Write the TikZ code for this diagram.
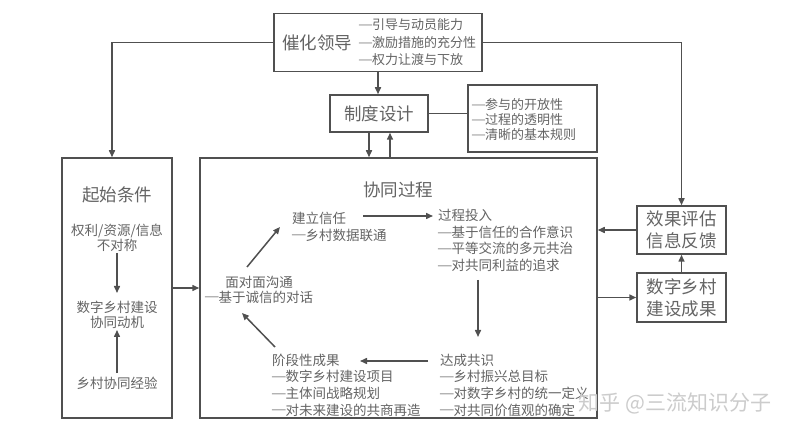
\documentclass[tikz,border=0pt]{standalone}
\usepackage{fontspec}
\setmainfont{Noto Sans CJK SC}
\newfontfamily\dashfont{Liberation Serif}
\newcommand\dd{\raisebox{0.1em}{\dashfont —}}
\usetikzlibrary{arrows.meta}
\definecolor{linec}{RGB}{80,80,80}
\definecolor{textc}{RGB}{100,100,100}
\begin{document}
\begin{tikzpicture}[x=1pt,y=-1pt,
  box/.style={draw=linec, line width=1.5pt, inner sep=0pt},
  small/.style={font=\fontsize{13.5}{16.5}\selectfont, text=textc, inner sep=0pt, align=left},
  big/.style={font=\fontsize{17.5}{21}\selectfont, text=textc, inner sep=0pt},
  conn/.style={draw=linec, line width=1.5pt},
  arr/.style={conn, -{Triangle[length=7pt,width=6pt]}}]
\useasboundingbox[fill=white] (0,0) rectangle (800,435);

% top box
\node[box, minimum width=208pt, minimum height=58pt] (cat) at (378,42.5) {};
\node[big] (catt) at (317,43) {催化领导};
\node[small, anchor=west, font=\fontsize{13}{17.5}\selectfont] (catl) at (359,42.5) {\dd 引导与动员能力\\\dd 激励措施的充分性\\\dd 权力让渡与下放};

% institution design
\node[box, big, minimum width=98pt, minimum height=37pt] (zd) at (379,113.5) {制度设计};
\node[box, minimum width=129pt, minimum height=67pt] (zdl) at (532.5,118.5) {};
\node[small, anchor=west, font=\fontsize{13}{15}\selectfont] (zdlt) at (472,120) {\dd 参与的开放性\\\dd 过程的透明性\\\dd 清晰的基本规则};

% initial conditions
\node[box, minimum width=110pt, minimum height=260pt] (qs) at (117,288) {};
\node[big] (qst) at (117,195) {起始条件};
\node[small, align=center, font=\fontsize{13.5}{15}\selectfont] (qs1) at (117,237.5) {权利/资源/信息\\不对称};
\node[small, align=center, font=\fontsize{13.5}{15}\selectfont] (qs2) at (117,314.5) {数字乡村建设\\协同动机};
\node[small] (qs3) at (117,383) {乡村协同经验};

% collaborative process
\node[box, minimum width=397pt, minimum height=260pt] (xt) at (398.5,288) {};
\node[big] (xtt) at (398,190) {协同过程};
\node[small, anchor=west, font=\fontsize{13.5}{17}\selectfont] (jl) at (292,226.5) {建立信任\\\dd 乡村数据联通};
\node[small, anchor=west] (gc) at (438,240.5) {过程投入\\\dd 基于信任的合作意识\\\dd 平等交流的多元共治\\\dd 对共同利益的追求};
\node[small, align=center, font=\fontsize{13.5}{15}\selectfont] (mdm) at (259,289.5) {面对面沟通\\\dd 基于诚信的对话};
\node[small, anchor=west, font=\fontsize{13.5}{16.7}\selectfont] (dc) at (440,385) {达成共识\\\dd 乡村振兴总目标\\\dd 对数字乡村的统一定义\\\dd 对共同价值观的确定};
\node[small, anchor=west, font=\fontsize{13.5}{16.7}\selectfont] (jd) at (272,385) {阶段性成果\\\dd 数字乡村建设项目\\\dd 主体间战略规划\\\dd 对未来建设的共商再造};

% right boxes
\node[box, big, align=center, font=\fontsize{17.5}{22}\selectfont, minimum width=89pt, minimum height=48pt] (xg) at (681.5,230) {效果评估\\信息反馈};
\node[box, big, align=center, font=\fontsize{17.5}{22}\selectfont, minimum width=89pt, minimum height=49pt] (cg) at (681.5,297.5) {数字乡村\\建设成果};

% internal arrow end points
\coordinate (a1s) at (363,216); \coordinate (a1e) at (433,216);
\coordinate (a2s) at (247,267); \coordinate (a2e) at (280,227);
\coordinate (a3s) at (478,280); \coordinate (a3e) at (478,337);
\coordinate (a4s) at (428,361); \coordinate (a4e) at (360,361);
\coordinate (a5s) at (275,347); \coordinate (a5e) at (242,313);
\coordinate (b1s) at (117,253); \coordinate (b1e) at (117,293);
\coordinate (b2s) at (117,373); \coordinate (b2e) at (117,330);
\draw[arr] (a1s) -- (a1e);
\draw[arr] (a2s) -- (a2e);
\draw[arr] (a3s) -- (a3e);
\draw[arr] (a4s) -- (a4e);
\draw[arr] (a5s) -- (a5e);
\draw[arr] (b1s) -- (b1e);
\draw[arr] (b2s) -- (b2e);

% outer connectors
\draw[arr] (cat.west) -| ([xshift=-5pt]qs.north);
\draw[arr] (cat.east) -| (xg.north);
\draw[arr] (cat.south) -- (cat.south |- zd.north);
\draw[arr] ([xshift=-10pt]zd.south) -- ([xshift=-10pt]zd.south |- xt.north);
\draw[arr] ([xshift=11pt]zd.south |- xt.north) -- ([xshift=11pt]zd.south);
\draw[conn] (zd.east) -- (zd.east -| zdl.west);
\draw[arr] (qs.east) -- (xt.west);
\draw[arr] (xg.west) -- (xg.west -| xt.east);
\draw[arr] (cg.west -| xt.east) -- (cg.west);
\draw[arr] (cg.north) -- (xg.south);

% watermark
\node[font=\fontsize{21}{21}\selectfont, text=gray!40, inner sep=0pt] (wm) at (675,403) {知乎 @三流知识分子};
\end{tikzpicture}
\end{document}
